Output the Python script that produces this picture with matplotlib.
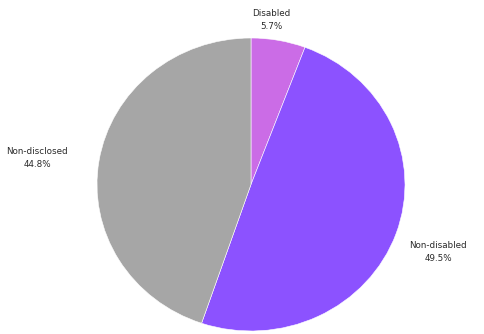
import numpy as np
import matplotlib
matplotlib.use("Agg")
import matplotlib.pyplot as plt

labels = ["Disabled", "Non-disabled", "Non-disclosed"]
shares = [5.7, 49.5, 44.8]
colors = ["#cb6ce6", "#8c52ff", "#a6a6a6"]

# label placement: distance (pie radii) and small angle nudge (degrees)
label_dist = [1.13, 1.30, 1.40]
label_nudge = [3.5, -1.1, 1.9]

fig = plt.figure(figsize=(4.84, 3.34), dpi=100)
ax = fig.add_axes([0, 0, 1, 1])

wedges, _ = ax.pie(shares, colors=colors, startangle=90, counterclock=False,
                   wedgeprops=dict(edgecolor="white", linewidth=0.4))

for w, lab, val, d, nd in zip(wedges, labels, shares, label_dist, label_nudge):
    mid = np.deg2rad((w.theta1 + w.theta2) / 2 + nd)
    ax.text(d * np.cos(mid), d * np.sin(mid), f"{lab}\n{val}%",
            ha="center", va="center", fontsize=6.3, color="#2a2a2a",
            linespacing=1.55)

# pie is slightly wider than tall in the reference
ax.set_aspect("auto")
ax.set_xlim(-251 / 154, (484 - 251) / 154)
ax.set_ylim(-149.5 / 146.5, (334 - 149.5) / 146.5)
ax.axis("off")

fig.savefig("out.png", dpi=100)
